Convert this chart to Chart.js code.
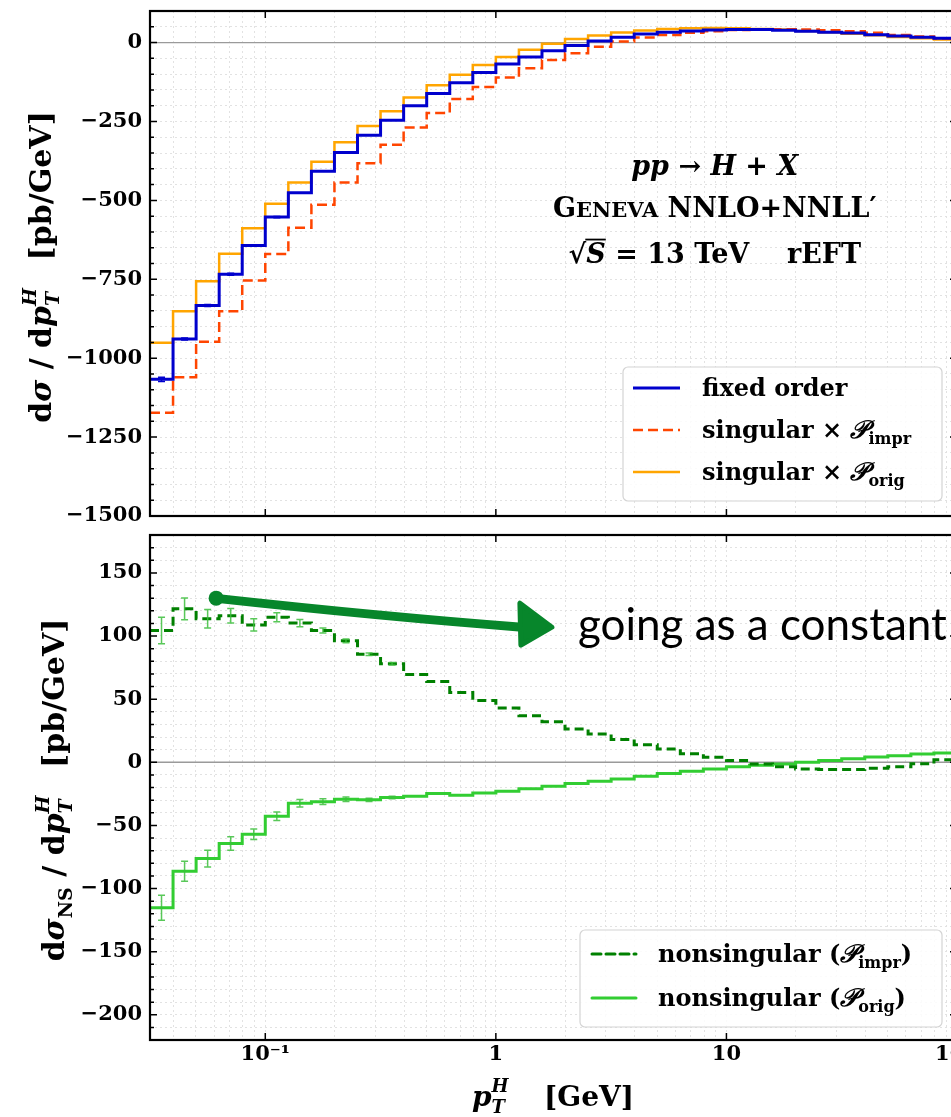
<!DOCTYPE html>
<html>
<head>
<meta charset="utf-8">
<script src="https://cdn.jsdelivr.net/npm/chart.js@4.4.1/dist/chart.umd.min.js"></script>
<style>
  html, body { margin: 0; padding: 0; background: #fff; overflow: hidden; }
  #page { position: relative; width: 951px; height: 1117px; overflow: hidden; }
  #top { position: absolute; left: 0; top: 0; }
  #bottom { position: absolute; left: 0; top: 526px; }
</style>
</head>
<body>
<div id="page">
  <canvas id="top" width="1000" height="526"></canvas>
  <canvas id="bottom" width="1000" height="591"></canvas>
</div>
<script>
// Bin edges in GeV, 10 log bins per decade. The first bin lies just left of the plot.
const binEdges = [0.02512, 0.03162, 0.03981, 0.05012, 0.06310, 0.07943,
  0.1, 0.1259, 0.1585, 0.1995, 0.2512, 0.3162, 0.3981, 0.5012, 0.6310, 0.7943,
  1, 1.259, 1.585, 1.995, 2.512, 3.162, 3.981, 5.012, 6.310, 7.943,
  10, 12.59, 15.85, 19.95, 25.12, 31.62, 39.81, 50.12, 63.10, 79.43, 100];
const xMin = 0.031623;
const xMax = 100;

// Upper panel, dsigma/dpT [pb/GeV]
const fixedOrder = [-1200, -1067, -939, -833, -734, -643, -553, -476, -408, -348, -294,
  -246, -200, -161, -127, -95, -68, -46, -26, -9, 5, 17, 27, 33, 37, 40, 41, 41, 39, 36,
  33, 30, 25, 21, 17, 14];
const fixedOrderErr = [0, 7, 3, 3, 3, 2, 2, 0, 0, 0, 0, 0, 0, 0, 0, 0, 0, 0, 0, 0, 0, 0,
  0, 0, 0, 0, 0, 0, 0, 0, 0, 0, 0, 0, 0, 0];
const singularImpr = [-1300, -1173, -1060, -948, -851, -754, -670, -587, -514, -443, -382,
  -324, -269, -223, -179, -141, -111, -81, -55, -34, -13, 3, 16, 24, 31, 36, 40, 42, 42,
  41, 39, 36, 31, 24, 19, 12];
const singularOrig = [-1030, -951, -851, -756, -669, -588, -511, -443, -378, -316, -264,
  -218, -174, -135, -102, -71, -46, -23, -4, 11, 22, 32, 38, 43, 45, 46, 45, 43, 41, 37,
  33, 28, 23, 18, 14, 10];

// Lower panel, nonsingular part [pb/GeV]
const nonsingImpr = [104.3, 104.3, 121.5, 113.6, 116, 108.8, 114.9, 110.2, 104.3, 96.2,
  85.6, 78, 69.5, 64, 55.3, 49, 43, 36.9, 32.1, 26.3, 22.4, 18.1, 13.9, 10.5, 6.8, 3.9,
  1.3, -1.4, -3.5, -5.3, -5.8, -5.8, -4.8, -3.5, -1.1, 2];
const nonsingImprErr = [0, 10.5, 8.6, 7.3, 5.8, 4.9, 3.6, 2.9, 2, 1.5, 1, 1, 0, 0, 0, 0,
  0, 0, 0, 0, 0, 0, 0, 0, 0, 0, 0, 0, 0, 0, 0, 0, 0, 0, 0, 0];
const nonsingOrig = [-130, -115.3, -86.3, -76.3, -64.4, -57, -42.8, -32.5, -31.2, -29.3,
  -29.8, -28, -27, -24.8, -26.2, -24.3, -23, -20.9, -19, -16.9, -15.1, -13.2, -11.1, -9,
  -7.2, -5.3, -3.5, -2.4, -1.4, 0, 1.3, 2.8, 4.2, 5.2, 6.6, 7.4];
const nonsingOrigErr = [0, 9.9, 7.9, 6.6, 5.4, 4.2, 3.4, 3, 2.2, 1.8, 1.2, 1, 0, 0, 0, 0,
  0, 0, 0, 0, 0, 0, 0, 0, 0, 0, 0, 0, 0, 0, 0, 0, 0, 0, 0, 0];

// Tick labels
const xMajor = [0.1, 1, 10, 100];
const xMajorLabels = ['10⁻¹', '1', '10', '100'];
const yTopMajor = [-1500, -1250, -1000, -750, -500, -250, 0];
const yBottomMajor = [-200, -150, -100, -50, 0, 50, 100, 150];

const BLUE = '#0000cd';
const RED = '#ff4500';
const ORANGE = '#ffa500';
const DGREEN = '#008000';
const LGREEN = '#32cd32';
const ERRGREEN = 'rgba(60,190,60,0.85)';
const GRID = '#e2e2e2';
const FONT = 'DejaVu Serif';

function B(s) { return `bold ${s}px "${FONT}"`; }
function BI(s) { return `italic bold ${s}px "${FONT}"`; }

// minor ticks on the log axis: 1..9 x 10^n
const xTicks = [];
for (let e = -2; e <= 2; e++) {
  for (let k = 1; k <= 9; k++) {
    const v = k * Math.pow(10, e);
    if (v >= xMin && v <= xMax * 1.0001) xTicks.push(v);
  }
}

function yTickList(min, max, step) {
  const list = [];
  for (let v = min; v <= max; v += step) list.push(v);
  return list;
}

function isMajorX(v) {
  return xMajor.findIndex(m => Math.abs(v / m - 1) < 1e-6);
}

// a histogram as a line: both edges of every bin
function histPoints(vals) {
  const pts = [];
  for (let i = 0; i < vals.length; i++) {
    pts.push({ x: binEdges[i], y: vals[i] });
    pts.push({ x: binEdges[i + 1], y: vals[i] });
  }
  return pts;
}

function fmtNum(v) {
  return v < 0 ? '\u2212' + (-v) : String(v);
}

// keep the plot area exactly where the layout padding puts it
function noScalePadding(s) {
  s.paddingTop = 0;
  s.paddingBottom = 0;
  s.paddingLeft = 0;
  s.paddingRight = 0;
}

function xScale(showLabels) {
  return {
    type: 'logarithmic',
    min: xMin,
    max: xMax,
    afterBuildTicks: s => { s.ticks = xTicks.map(v => ({ value: v })); },
    afterFit: s => { s.height = showLabels ? 77 : 10; noScalePadding(s); },
    ticks: {
      display: showLabels, autoSkip: false, maxRotation: 0, minRotation: 0, padding: 2,
      color: '#000', font: { family: FONT, weight: 'bold', size: 21 },
      callback: v => { const i = isMajorX(v); return i >= 0 ? xMajorLabels[i] : ''; }
    },
    grid: { color: GRID, lineWidth: 1, drawTicks: false },
    border: { display: false, dash: [2, 3] }
  };
}

function yScale(min, max, step, majors) {
  const list = yTickList(min, max, step);
  return {
    min: min,
    max: max,
    afterBuildTicks: s => { s.ticks = list.map(v => ({ value: v })); },
    afterFit: s => { s.width = 150; noScalePadding(s); },
    ticks: {
      autoSkip: false, padding: 8, color: '#000',
      font: { family: FONT, weight: 'bold', size: 21 },
      callback: v => majors.includes(v) ? fmtNum(v) : ''
    },
    grid: { color: GRID, lineWidth: 1, drawTicks: false },
    border: { display: false, dash: [2, 3] }
  };
}

// ---- rich text helpers (sub/superscripts) ----
function richWidth(ctx, parts) {
  let w = 0;
  parts.forEach(p => {
    ctx.font = p.f;
    if (p.adv !== false) w += ctx.measureText(p.t).width;
  });
  return w;
}

function drawRich(ctx, parts, x, y, align) {
  const w = richWidth(ctx, parts);
  let cx = align === 'center' ? x - w / 2 : x;
  ctx.textAlign = 'left';
  ctx.textBaseline = 'alphabetic';
  ctx.fillStyle = '#000';
  parts.forEach(p => {
    ctx.font = p.f;
    const pw = ctx.measureText(p.t).width;
    ctx.fillText(p.t, cx, y + (p.dy || 0));
    if (p.over) {
      ctx.strokeStyle = '#000';
      ctx.lineWidth = 1.8;
      ctx.beginPath();
      ctx.moveTo(cx - 1, y - p.over);
      ctx.lineTo(cx + pw, y - p.over);
      ctx.stroke();
    }
    if (p.adv !== false) cx += pw;
  });
}

function drawLegend(ctx, box, entries) {
  ctx.save();
  ctx.beginPath();
  ctx.roundRect(box.x, box.y, box.w, box.h, 5);
  ctx.fillStyle = 'rgba(255,255,255,0.85)';
  ctx.fill();
  ctx.strokeStyle = '#d4d4d4';
  ctx.lineWidth = 1.2;
  ctx.stroke();
  entries.forEach((e, i) => {
    const y = box.firstY + i * box.step;
    ctx.beginPath();
    ctx.setLineDash(e.dash || []);
    ctx.strokeStyle = e.color;
    ctx.lineWidth = e.width;
    ctx.moveTo(box.lx0, y);
    ctx.lineTo(box.lx1, y);
    ctx.stroke();
    ctx.setLineDash([]);
    drawRich(ctx, e.parts, box.tx, y + 8, 'left');
  });
  ctx.restore();
}

// draws zero line, error bars, frame with inward ticks, and panel extras
function panelDecor(cfg) {
  return {
    id: 'decor',
    beforeDatasetsDraw(chart) {
      const { ctx, chartArea: a, scales: { y } } = chart;
      const py = y.getPixelForValue(0);
      ctx.save();
      ctx.strokeStyle = '#9a9a9a';
      ctx.lineWidth = 1.3;
      ctx.beginPath();
      ctx.moveTo(a.left, py);
      ctx.lineTo(a.right, py);
      ctx.stroke();
      ctx.restore();
    },
    afterDatasetsDraw(chart) {
      const { ctx, chartArea: a, scales: { x, y } } = chart;
      ctx.save();
      ctx.beginPath();
      ctx.rect(a.left, a.top, a.right - a.left, a.bottom - a.top);
      ctx.clip();
      cfg.errors.forEach(er => {
        ctx.strokeStyle = er.color;
        ctx.lineWidth = 1.5;
        er.vals.forEach((v, i) => {
          const e = er.errs[i];
          if (!e) return;
          const px = x.getPixelForValue(Math.sqrt(binEdges[i] * binEdges[i + 1]));
          const p1 = y.getPixelForValue(v - e);
          const p2 = y.getPixelForValue(v + e);
          ctx.beginPath();
          ctx.moveTo(px, p1); ctx.lineTo(px, p2);
          ctx.moveTo(px - 3.5, p1); ctx.lineTo(px + 3.5, p1);
          ctx.moveTo(px - 3.5, p2); ctx.lineTo(px + 3.5, p2);
          ctx.stroke();
        });
      });
      ctx.restore();

      // inward ticks on all four sides
      ctx.save();
      ctx.strokeStyle = '#000';
      ctx.lineWidth = 1.5;
      ctx.beginPath();
      y.ticks.forEach(t => {
        const py = y.getPixelForValue(t.value);
        const len = cfg.yMajor.includes(t.value) ? 7 : 4;
        ctx.moveTo(a.left, py); ctx.lineTo(a.left + len, py);
        ctx.moveTo(a.right, py); ctx.lineTo(a.right - len, py);
      });
      xMajor.forEach(v => {
        const px = x.getPixelForValue(v);
        ctx.moveTo(px, a.top); ctx.lineTo(px, a.top + 7);
        ctx.moveTo(px, a.bottom); ctx.lineTo(px, a.bottom - 7);
      });
      ctx.stroke();
      ctx.lineWidth = 2.2;
      ctx.strokeRect(a.left, a.top, a.right - a.left, a.bottom - a.top);
      ctx.restore();

      ctx.save();
      cfg.extra(chart);
      ctx.restore();
    }
  };
}

// ---- upper panel ----
const topLegend = [
  { color: BLUE, width: 3, parts: [{ t: 'fixed order', f: B(24) }] },
  { color: RED, width: 2.5, dash: [10, 5], parts: [
    { t: 'singular × ', f: B(24) }, { t: '𝒫', f: BI(25) }, { t: 'impr', f: B(16), dy: 6 }] },
  { color: ORANGE, width: 2.5, parts: [
    { t: 'singular × ', f: B(24) }, { t: '𝒫', f: BI(25) }, { t: 'orig', f: B(16), dy: 6 }] }
];

// where the process note sits, in data units
const noteX = 8.9;
const noteY = [-419, -552, -697];

new Chart(document.getElementById('top'), {
  type: 'line',
  data: {
    datasets: [
      { label: 'fixed order', data: histPoints(fixedOrder), borderColor: BLUE, borderWidth: 3 },
      { label: 'singular × P_impr', data: histPoints(singularImpr), borderColor: RED,
        borderWidth: 2.5, borderDash: [10, 5] },
      { label: 'singular × P_orig', data: histPoints(singularOrig), borderColor: ORANGE,
        borderWidth: 2.5 }
    ]
  },
  options: {
    responsive: false,
    animation: false,
    events: [],
    elements: { point: { radius: 0 }, line: { tension: 0, fill: false } },
    layout: { padding: { top: 11, right: 43, bottom: 0, left: 0 } },
    plugins: { legend: { display: false }, tooltip: { enabled: false } },
    scales: { x: xScale(false), y: yScale(-1500, 100, 50, yTopMajor) }
  },
  plugins: [panelDecor({
    yMajor: yTopMajor,
    errors: [{ vals: fixedOrder, errs: fixedOrderErr, color: BLUE }],
    extra(chart) {
      const { ctx, scales: { x, y } } = chart;
      const cx = x.getPixelForValue(noteX);
      drawRich(ctx, [
        { t: 'pp', f: BI(27) }, { t: ' → ', f: B(27) }, { t: 'H', f: BI(27) },
        { t: ' + ', f: B(27) }, { t: 'X', f: BI(27) }], cx, y.getPixelForValue(noteY[0]), 'center');
      drawRich(ctx, [
        { t: 'G', f: B(27) }, { t: 'ENEVA', f: B(21) }, { t: ' NNLO+NNLL′', f: B(27) }],
        cx, y.getPixelForValue(noteY[1]), 'center');
      drawRich(ctx, [
        { t: '√', f: B(27) }, { t: 'S', f: BI(27), over: 23 }, { t: ' = 13 TeV    rEFT', f: B(27) }],
        cx, y.getPixelForValue(noteY[2]), 'center');

      drawLegend(ctx, { x: 623, y: 367, w: 319, h: 134, firstY: 388, step: 42,
        lx0: 633, lx1: 680, tx: 702 }, topLegend);

      // y axis title
      ctx.save();
      ctx.translate(51, 267);
      ctx.rotate(-Math.PI / 2);
      drawRich(ctx, [
        { t: 'd', f: B(30) }, { t: 'σ', f: BI(30) }, { t: ' / d', f: B(30) }, { t: 'p', f: BI(30) },
        { t: 'H', f: BI(19), dy: -15, adv: false }, { t: 'T', f: BI(19), dy: 8 },
        { t: '   [pb/GeV]', f: B(30) }], 0, 0, 'center');
      ctx.restore();
    }
  })]
});

// ---- lower panel ----
const bottomLegend = [
  { color: DGREEN, width: 3, dash: [9, 5], parts: [
    { t: 'nonsingular (', f: B(24) }, { t: '𝒫', f: BI(25) }, { t: 'impr', f: B(16), dy: 6 },
    { t: ')', f: B(24) }] },
  { color: LGREEN, width: 3, parts: [
    { t: 'nonsingular (', f: B(24) }, { t: '𝒫', f: BI(25) }, { t: 'orig', f: B(16), dy: 6 },
    { t: ')', f: B(24) }] }
];

// hand-drawn arrow and remark, in data units
const arrowFrom = { x: 0.060, y: 130 };
const arrowTo = { x: 1.75, y: 107 };
const remarkAt = { x: 2.27, y: 97 };

new Chart(document.getElementById('bottom'), {
  type: 'line',
  data: {
    datasets: [
      { label: 'nonsingular (P_impr)', data: histPoints(nonsingImpr), borderColor: DGREEN,
        borderWidth: 3, borderDash: [9, 5] },
      { label: 'nonsingular (P_orig)', data: histPoints(nonsingOrig), borderColor: LGREEN,
        borderWidth: 3 }
    ]
  },
  options: {
    responsive: false,
    animation: false,
    events: [],
    elements: { point: { radius: 0 }, line: { tension: 0, fill: false } },
    layout: { padding: { top: 9, right: 43, bottom: 0, left: 0 } },
    plugins: { legend: { display: false }, tooltip: { enabled: false } },
    scales: { x: xScale(true), y: yScale(-220, 180, 10, yBottomMajor) }
  },
  plugins: [panelDecor({
    yMajor: yBottomMajor,
    errors: [
      { vals: nonsingImpr, errs: nonsingImprErr, color: ERRGREEN },
      { vals: nonsingOrig, errs: nonsingOrigErr, color: ERRGREEN }
    ],
    extra(chart) {
      const { ctx, scales: { x, y } } = chart;

      // arrow
      const x0 = x.getPixelForValue(arrowFrom.x), y0 = y.getPixelForValue(arrowFrom.y);
      const x1 = x.getPixelForValue(arrowTo.x), y1 = y.getPixelForValue(arrowTo.y);
      ctx.fillStyle = '#07862b';
      ctx.strokeStyle = '#07862b';
      ctx.lineCap = 'round';
      ctx.lineWidth = 9;
      ctx.beginPath();
      ctx.moveTo(x0, y0);
      ctx.quadraticCurveTo((x0 + x1) / 2, (y0 + y1) / 2 + 4, x1 - 30, y1);
      ctx.stroke();
      ctx.beginPath();
      ctx.arc(x0 + 2, y0, 7.5, 0, Math.PI * 2);
      ctx.fill();
      ctx.lineJoin = 'round';
      ctx.lineWidth = 5;
      ctx.beginPath();
      ctx.moveTo(x1, y1);
      ctx.lineTo(x1 - 32, y1 - 24);
      ctx.lineTo(x1 - 31, y1 + 18);
      ctx.closePath();
      ctx.fill();
      ctx.stroke();

      ctx.fillStyle = '#000';
      ctx.font = '44px Lato';
      ctx.textAlign = 'left';
      ctx.textBaseline = 'alphabetic';
      ctx.fillText('going as a constant', x.getPixelForValue(remarkAt.x), y.getPixelForValue(remarkAt.y));

      drawLegend(ctx, { x: 580, y: 404, w: 362, h: 97, firstY: 428, step: 44,
        lx0: 592, lx1: 636, tx: 658 }, bottomLegend);

      // axis titles
      ctx.save();
      ctx.translate(64, 264);
      ctx.rotate(-Math.PI / 2);
      drawRich(ctx, [
        { t: 'd', f: B(30) }, { t: 'σ', f: BI(30) }, { t: 'NS', f: B(19), dy: 8 },
        { t: ' / d', f: B(30) }, { t: 'p', f: BI(30) },
        { t: 'H', f: BI(19), dy: -15, adv: false }, { t: 'T', f: BI(19), dy: 8 },
        { t: '   [pb/GeV]', f: B(30) }], 0, 0, 'center');
      ctx.restore();

      drawRich(ctx, [
        { t: 'p', f: BI(28) }, { t: 'H', f: BI(18), dy: -14, adv: false },
        { t: 'T', f: BI(18), dy: 7 }, { t: '    [GeV]', f: B(28) }], 553, 580, 'center');
    }
  })]
});
</script>
</body>
</html>
